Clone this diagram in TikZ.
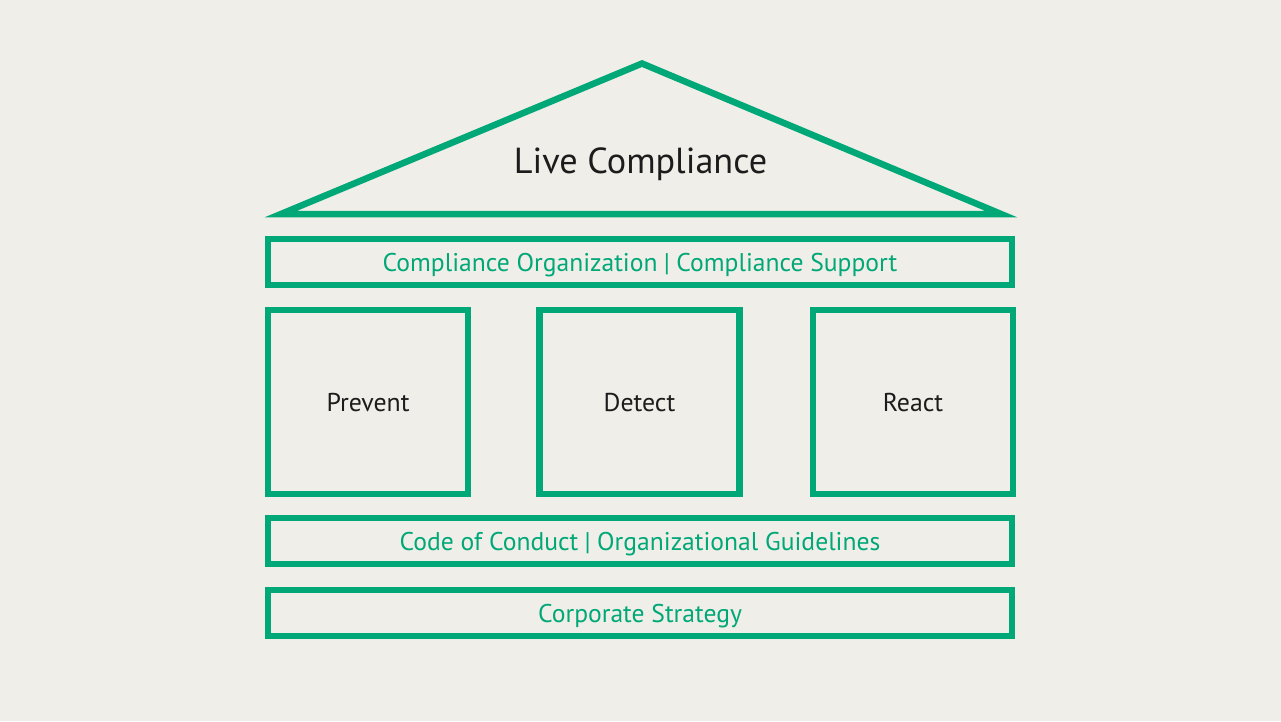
\documentclass[tikz,border=0pt]{standalone}
\usepackage{fontspec}
\setmainfont{PT Sans}
\definecolor{bg}{HTML}{F0EEE8}
\definecolor{cgreen}{HTML}{00A878}
\definecolor{cblack}{HTML}{1C1C1C}
\newcommand{\sepbar}{\hspace{0.25em}|\hspace{0.25em}}
\begin{document}
\begin{tikzpicture}[x=1pt,y=-1pt,
  frame/.style={draw=cgreen, line width=6.5pt, line join=miter, rectangle, inner sep=0pt},
  greentxt/.style={text=cgreen, font=\fontsize{25.6}{30}\selectfont, text height=18pt, text depth=0pt},
  blacktxt/.style={text=cblack, font=\fontsize{25.8}{30}\selectfont, text height=18pt, text depth=0pt},
  rooftxt/.style={text=cblack, font=\fontsize{36.2}{42}\selectfont, anchor=base}]
\fill[bg] (0,0) rectangle (1281,721);
\useasboundingbox (0,0) rectangle (1281,721);
% roof
\coordinate (apex) at (642,63.5);
\coordinate (rl) at (281,214);
\coordinate (rr) at (1001,214);
\draw[draw=cgreen, line width=6.5pt, line join=miter, miter limit=10] (rl) -- (apex) -- (rr) -- cycle;
\node[rooftxt] (live) at (640.5,173) {Live Compliance};
% bands
\node[frame, greentxt, minimum width=744pt, minimum height=46pt] (org) at (640,262) {Compliance Organization\sepbar Compliance Support};
\node[frame, blacktxt, minimum width=200pt, minimum height=184pt] (prevent) at (368,402) {Prevent};
\node[frame, blacktxt, minimum width=200pt, minimum height=184pt] (detect) at (639.5,402) {Detect};
\node[frame, blacktxt, minimum width=200pt, minimum height=184pt] (react) at (913,402) {React};
\node[frame, greentxt, minimum width=744pt, minimum height=46pt] (code) at (640,541) {Code of Conduct\sepbar Organizational Guidelines};
\node[frame, greentxt, minimum width=744pt, minimum height=46pt] (strat) at (640,613) {Corporate Strategy};
\end{tikzpicture}
\end{document}
